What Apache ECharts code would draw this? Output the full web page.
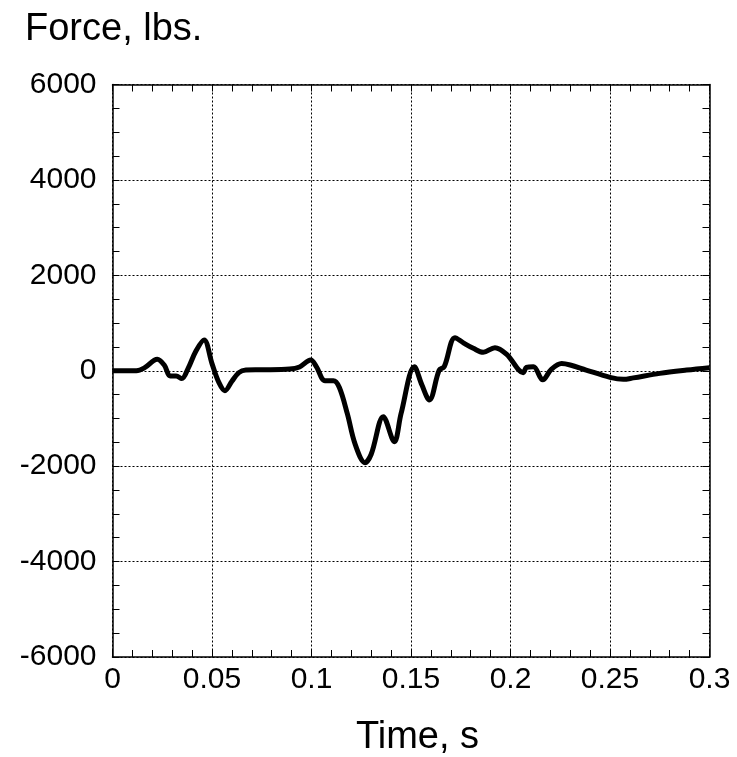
<!DOCTYPE html>
<html><head><meta charset="utf-8">
<script src="https://cdn.jsdelivr.net/npm/echarts@6/dist/echarts.min.js"></script>
<style>html,body{margin:0;padding:0;background:#fff}#c{width:737px;height:757px}</style>
</head><body><div id="c"></div>
<script>
var timeS = [0,0.005,0.012,0.016,0.0225,0.026,0.029,0.032,0.0348,0.038,0.042,0.046,0.050,0.0535,0.0565,0.060,0.0635,0.067,0.075,0.089,0.094,0.0996,0.1025,0.1068,0.111,0.114,0.118,0.122,0.1269,0.130,0.1361,0.1416,0.145,0.1517,0.1555,0.1592,0.1642,0.1667,0.1721,0.1765,0.1813,0.1863,0.1922,0.1981,0.2064,0.208,0.2115,0.2162,0.2205,0.2257,0.230,0.238,0.25,0.2567,0.2617,0.275,0.2885,0.3];
var forceLbs = [0,0,0,60,240,120,-110,-110,-165,50,420,645,150,-250,-418,-220,-40,15,20,35,80,225,80,-208,-208,-350,-900,-1550,-1927,-1750,-963,-1487,-900,85,-300,-613,15,85,693,580,470,386,484,345,-40,70,85,-190,30,150,120,15,-138,-180,-150,-55,15,65];
var xTicks = [0,0.05,0.1,0.15,0.2,0.25,0.3];
var yTicks = [-6000,-4000,-2000,0,2000,4000,6000];

var pts = timeS.map(function(t,i){return [t, forceLbs[i]];});
var font = 'Liberation Sans, Arial, sans-serif';
var chart = echarts.init(document.getElementById('c'), null, {renderer:'canvas'});
function xAx(pos, labels){
  return {type:'value', position:pos, min:xTicks[0], max:xTicks[xTicks.length-1], interval:0.05,
    axisLine:{show:true, onZero:false, lineStyle:{color:'#000', width:1.5}},
    axisTick:{show:true, inside:true, length:7, lineStyle:{color:'#000'}},
    minorTick:{show:true, splitNumber:5, length:7, lineStyle:{color:'#000'}},
    splitLine:{show:labels, lineStyle:{color:'#000', type:[2,2], width:1}},
    axisLabel:{show:labels, fontFamily:font, fontSize:30, color:'#000', margin:8,
      formatter:function(v){return String(+v.toFixed(2));}}};
}
function yAx(pos, labels){
  return {type:'value', position:pos, min:yTicks[0], max:yTicks[yTicks.length-1], interval:2000,
    axisLine:{show:true, onZero:false, lineStyle:{color:'#000', width:1.5}},
    axisTick:{show:true, inside:true, length:7, lineStyle:{color:'#000'}},
    minorTick:{show:true, splitNumber:4, length:7, lineStyle:{color:'#000'}},
    splitLine:{show:labels, lineStyle:{color:'#000', type:[2,2], width:1}},
    axisLabel:{show:labels, fontFamily:font, fontSize:30, color:'#000', margin:16,
      padding:[0,0,8,0], formatter:function(v){return String(v);}}};
}
chart.setOption({
  animation:false,
  backgroundColor:'#fff',
  grid:{left:112.5, right:27.5, top:84.5, bottom:100, containLabel:false},
  title:[{text:'Force, lbs.', left:20, top:6, textStyle:{fontFamily:font, fontSize:38, fontWeight:'normal', color:'#000'}},
         {text:'Time, s', left:412.5, top:714, textAlign:'center', textStyle:{fontFamily:font, fontSize:38, fontWeight:'normal', color:'#000'}}],
  xAxis:[xAx('bottom', true), xAx('top', false)],
  yAxis:[yAx('left', true), yAx('right', false)],
  series:[{type:'line', data:pts, xAxisIndex:0, yAxisIndex:0, smooth:0.35, showSymbol:false,
    lineStyle:{color:'#000', width:5}}]
});
</script></body></html>
